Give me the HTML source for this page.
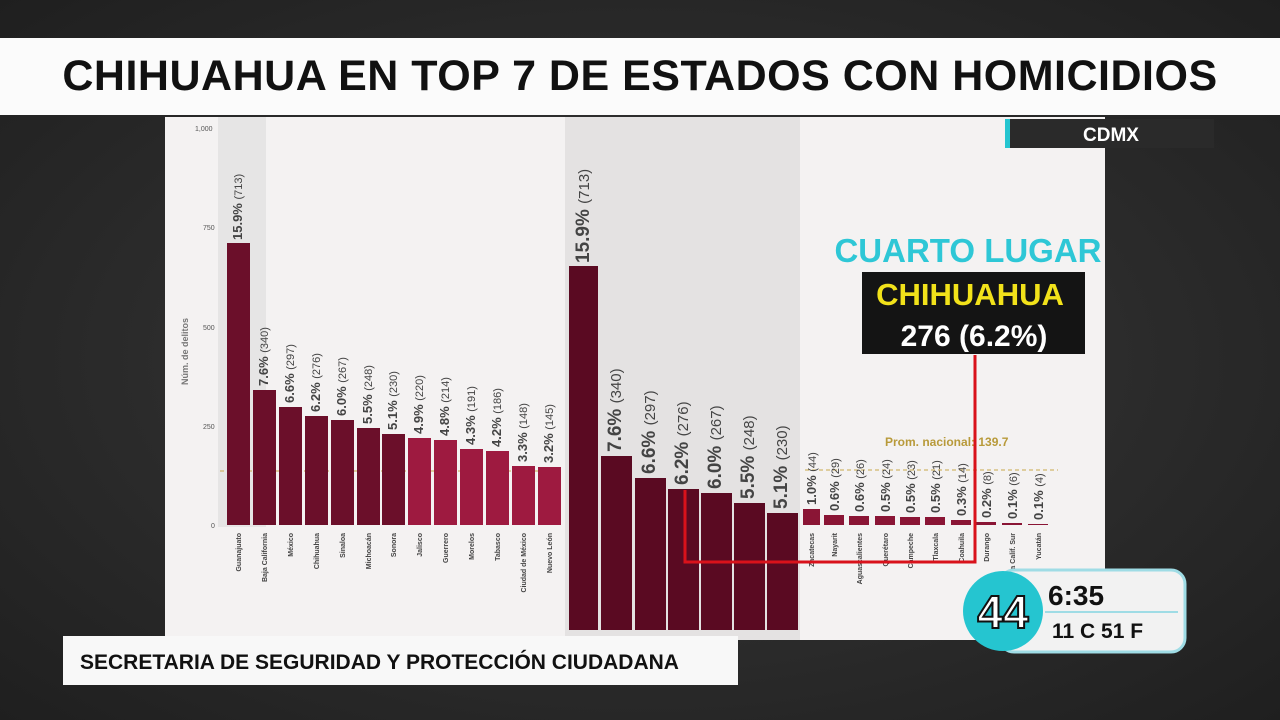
<!DOCTYPE html>
<html><head><meta charset="utf-8"><style>
body{margin:0;width:1280px;height:720px;overflow:hidden;background:#2b2b2b;font-family:"Liberation Sans",sans-serif;position:relative}
.a{position:absolute}
.title{left:0;top:38px;width:1280px;height:77px;background:#fbfbfb;text-align:center;font-weight:bold;font-size:43px;line-height:77px;color:#111;letter-spacing:0.5px}
.lbl{position:absolute;transform:rotate(-90deg);transform-origin:left top;white-space:nowrap;font-size:13px;font-weight:bold;color:#444}
</style></head><body>
<div class="a" style="left:0;top:0;width:1280px;height:720px;background:radial-gradient(ellipse at 50% 50%,#3a3a3a,#1f1f1f)"></div>
<div class="a title">CHIHUAHUA EN TOP 7 DE ESTADOS CON HOMICIDIOS</div>
<div class="a" style="left:165px;top:117px;width:940px;height:523px;background:#f4f2f2"></div>
<div class="a" style="left:565px;top:117px;width:235px;height:523px;background:#e4e2e2"></div>
<div class="a" style="left:218px;top:117px;width:48px;height:410px;background:#dcdcdc;opacity:.6"></div>
<svg class="a" style="left:0;top:0" width="1280" height="720">
<g font-family="Liberation Sans" font-size="7" fill="#555">
<text x="195" y="131" >1,000</text><text x="203" y="230">750</text><text x="203" y="330">500</text><text x="203" y="429">250</text><text x="211" y="528">0</text>
</g>
<line x1="220" y1="471" x2="563" y2="471" stroke="#c9a84a" stroke-dasharray="4,3"/>
<g fill="#6b0f2a">
<rect x="227" y="243" width="23" height="282"/><rect x="253" y="390" width="23" height="135"/><rect x="279" y="407" width="23" height="118"/><rect x="305" y="416" width="23" height="109"/><rect x="331" y="420" width="23" height="105"/><rect x="357" y="428" width="23" height="97"/><rect x="382" y="434" width="23" height="91"/>
</g>
<g fill="#9e1a40">
<rect x="408" y="438" width="23" height="87"/><rect x="434" y="440" width="23" height="85"/><rect x="460" y="449" width="23" height="76"/><rect x="486" y="451" width="23" height="74"/><rect x="512" y="466" width="23" height="59"/><rect x="538" y="467" width="23" height="58"/>
</g>
<g font-family="Liberation Sans" font-size="7" font-weight="bold" fill="#444" text-anchor="end">
<text transform="translate(241,533) rotate(-90)">Guanajuato</text>
<text transform="translate(267,533) rotate(-90)">Baja California</text>
<text transform="translate(293,533) rotate(-90)">México</text>
<text transform="translate(319,533) rotate(-90)">Chihuahua</text>
<text transform="translate(345,533) rotate(-90)">Sinaloa</text>
<text transform="translate(371,533) rotate(-90)">Michoacán</text>
<text transform="translate(396,533) rotate(-90)">Sonora</text>
<text transform="translate(422,533) rotate(-90)">Jalisco</text>
<text transform="translate(448,533) rotate(-90)">Guerrero</text>
<text transform="translate(474,533) rotate(-90)">Morelos</text>
<text transform="translate(500,533) rotate(-90)">Tabasco</text>
<text transform="translate(526,533) rotate(-90)">Ciudad de México</text>
<text transform="translate(552,533) rotate(-90)">Nuevo León</text>
<text transform="translate(814,533) rotate(-90)">Zacatecas</text>
<text transform="translate(837,533) rotate(-90)">Nayarit</text>
<text transform="translate(862,533) rotate(-90)">Aguascalientes</text>
<text transform="translate(888,533) rotate(-90)">Querétaro</text>
<text transform="translate(913,533) rotate(-90)">Campeche</text>
<text transform="translate(938,533) rotate(-90)">Tlaxcala</text>
<text transform="translate(964,533) rotate(-90)">Coahuila</text>
<text transform="translate(989,533) rotate(-90)">Durango</text>
<text transform="translate(1015,533) rotate(-90)">Baja Calif. Sur</text>
<text transform="translate(1041,533) rotate(-90)">Yucatán</text>
</g>
<g fill="#5a0a22">
<rect x="569" y="266" width="29" height="364"/><rect x="601" y="456" width="31" height="174"/><rect x="635" y="478" width="31" height="152"/><rect x="668" y="489" width="31" height="141"/><rect x="701" y="493" width="31" height="137"/><rect x="734" y="503" width="31" height="127"/><rect x="767" y="513" width="31" height="117"/>
</g>
<line x1="805" y1="470" x2="1058" y2="470" stroke="#c9a84a" stroke-dasharray="4,3"/>
<text x="885" y="446" font-size="12" font-weight="bold" fill="#b89a3a" font-family="Liberation Sans">Prom. nacional: 139.7</text>
<g fill="#8a1535">
<rect x="803" y="509" width="17" height="16"/><rect x="824" y="515" width="20" height="10"/><rect x="849" y="516" width="20" height="9"/><rect x="875" y="516" width="20" height="9"/><rect x="900" y="517" width="20" height="8"/><rect x="925" y="517" width="20" height="8"/><rect x="951" y="520" width="20" height="5"/><rect x="976" y="522" width="20" height="3"/><rect x="1002" y="523" width="20" height="2"/><rect x="1028" y="524" width="20" height="1"/>
</g>
<rect x="1008" y="119" width="206" height="29" fill="#2a2a2a"/><rect x="1005" y="119" width="5" height="29" fill="#25c5d0"/>
<text x="1111" y="141" text-anchor="middle" font-size="19" font-weight="bold" fill="#fff" font-family="Liberation Sans">CDMX</text>
<text x="968" y="262" text-anchor="middle" font-size="33" font-weight="bold" fill="#2ec7d6" font-family="Liberation Sans">CUARTO LUGAR</text>
<rect x="862" y="272" width="223" height="82" fill="#141414"/>
<text x="970" y="305" text-anchor="middle" font-size="31" font-weight="bold" fill="#f2e21a" font-family="Liberation Sans">CHIHUAHUA</text>
<text x="974" y="346" text-anchor="middle" font-size="30" font-weight="bold" fill="#fff" font-family="Liberation Sans">276 (6.2%)</text>
<polyline points="685,490 685,562 975,562 975,355" fill="none" stroke="#d9121b" stroke-width="3"/>
<rect x="63" y="636" width="675" height="49" fill="#f8f8f8"/>
<text x="80" y="669" font-size="21" font-weight="bold" fill="#111" font-family="Liberation Sans">SECRETARIA DE SEGURIDAD Y PROTECCIÓN CIUDADANA</text>
<rect x="1000" y="570" width="185" height="82" rx="14" fill="#f2f2f2" stroke="#9fdce5" stroke-width="3"/>
<circle cx="1003" cy="611" r="40" fill="#25c5d0"/>
<text x="1003" y="628" text-anchor="middle" font-size="46" font-weight="bold" fill="#fff" stroke="#111" stroke-width="2" font-family="Liberation Sans">44</text>
<text x="1048" y="605" font-size="28" font-weight="bold" fill="#111" font-family="Liberation Sans">6:35</text>
<line x1="1045" y1="612" x2="1178" y2="612" stroke="#9fdce5" stroke-width="2"/>
<text x="1052" y="638" font-size="21" font-weight="bold" fill="#111" font-family="Liberation Sans">11 C   51 F</text>
</svg>
<div class="lbl" style="left:230px;top:240px">15.9% <span style="font-weight:normal;font-size:11px">(713)</span></div>
<div class="lbl" style="left:256px;top:386px">7.6% <span style="font-weight:normal;font-size:11px">(340)</span></div>
<div class="lbl" style="left:282px;top:403px">6.6% <span style="font-weight:normal;font-size:11px">(297)</span></div>
<div class="lbl" style="left:308px;top:412px">6.2% <span style="font-weight:normal;font-size:11px">(276)</span></div>
<div class="lbl" style="left:334px;top:416px">6.0% <span style="font-weight:normal;font-size:11px">(267)</span></div>
<div class="lbl" style="left:360px;top:424px">5.5% <span style="font-weight:normal;font-size:11px">(248)</span></div>
<div class="lbl" style="left:385px;top:430px">5.1% <span style="font-weight:normal;font-size:11px">(230)</span></div>
<div class="lbl" style="left:411px;top:434px">4.9% <span style="font-weight:normal;font-size:11px">(220)</span></div>
<div class="lbl" style="left:437px;top:436px">4.8% <span style="font-weight:normal;font-size:11px">(214)</span></div>
<div class="lbl" style="left:463px;top:445px">4.3% <span style="font-weight:normal;font-size:11px">(191)</span></div>
<div class="lbl" style="left:489px;top:447px">4.2% <span style="font-weight:normal;font-size:11px">(186)</span></div>
<div class="lbl" style="left:515px;top:462px">3.3% <span style="font-weight:normal;font-size:11px">(148)</span></div>
<div class="lbl" style="left:541px;top:463px">3.2% <span style="font-weight:normal;font-size:11px">(145)</span></div>
<div class="lbl" style="left:573px;top:263px;font-size:19px">15.9% <span style="font-weight:normal;font-size:15px">(713)</span></div>
<div class="lbl" style="left:605px;top:452px;font-size:19px">7.6% <span style="font-weight:normal;font-size:15px">(340)</span></div>
<div class="lbl" style="left:639px;top:474px;font-size:19px">6.6% <span style="font-weight:normal;font-size:15px">(297)</span></div>
<div class="lbl" style="left:672px;top:485px;font-size:19px">6.2% <span style="font-weight:normal;font-size:15px">(276)</span></div>
<div class="lbl" style="left:705px;top:489px;font-size:19px">6.0% <span style="font-weight:normal;font-size:15px">(267)</span></div>
<div class="lbl" style="left:738px;top:499px;font-size:19px">5.5% <span style="font-weight:normal;font-size:15px">(248)</span></div>
<div class="lbl" style="left:771px;top:509px;font-size:19px">5.1% <span style="font-weight:normal;font-size:15px">(230)</span></div>
<div class="lbl" style="left:804px;top:505px">1.0% <span style="font-weight:normal;font-size:11px">(44)</span></div>
<div class="lbl" style="left:827px;top:511px">0.6% <span style="font-weight:normal;font-size:11px">(29)</span></div>
<div class="lbl" style="left:852px;top:512px">0.6% <span style="font-weight:normal;font-size:11px">(26)</span></div>
<div class="lbl" style="left:878px;top:512px">0.5% <span style="font-weight:normal;font-size:11px">(24)</span></div>
<div class="lbl" style="left:903px;top:513px">0.5% <span style="font-weight:normal;font-size:11px">(23)</span></div>
<div class="lbl" style="left:928px;top:513px">0.5% <span style="font-weight:normal;font-size:11px">(21)</span></div>
<div class="lbl" style="left:954px;top:516px">0.3% <span style="font-weight:normal;font-size:11px">(14)</span></div>
<div class="lbl" style="left:979px;top:518px">0.2% <span style="font-weight:normal;font-size:11px">(8)</span></div>
<div class="lbl" style="left:1005px;top:519px">0.1% <span style="font-weight:normal;font-size:11px">(6)</span></div>
<div class="lbl" style="left:1031px;top:520px">0.1% <span style="font-weight:normal;font-size:11px">(4)</span></div>
<div class="lbl" style="left:180px;top:385px;font-size:9px;color:#777">Núm. de delitos</div>
</body></html>
